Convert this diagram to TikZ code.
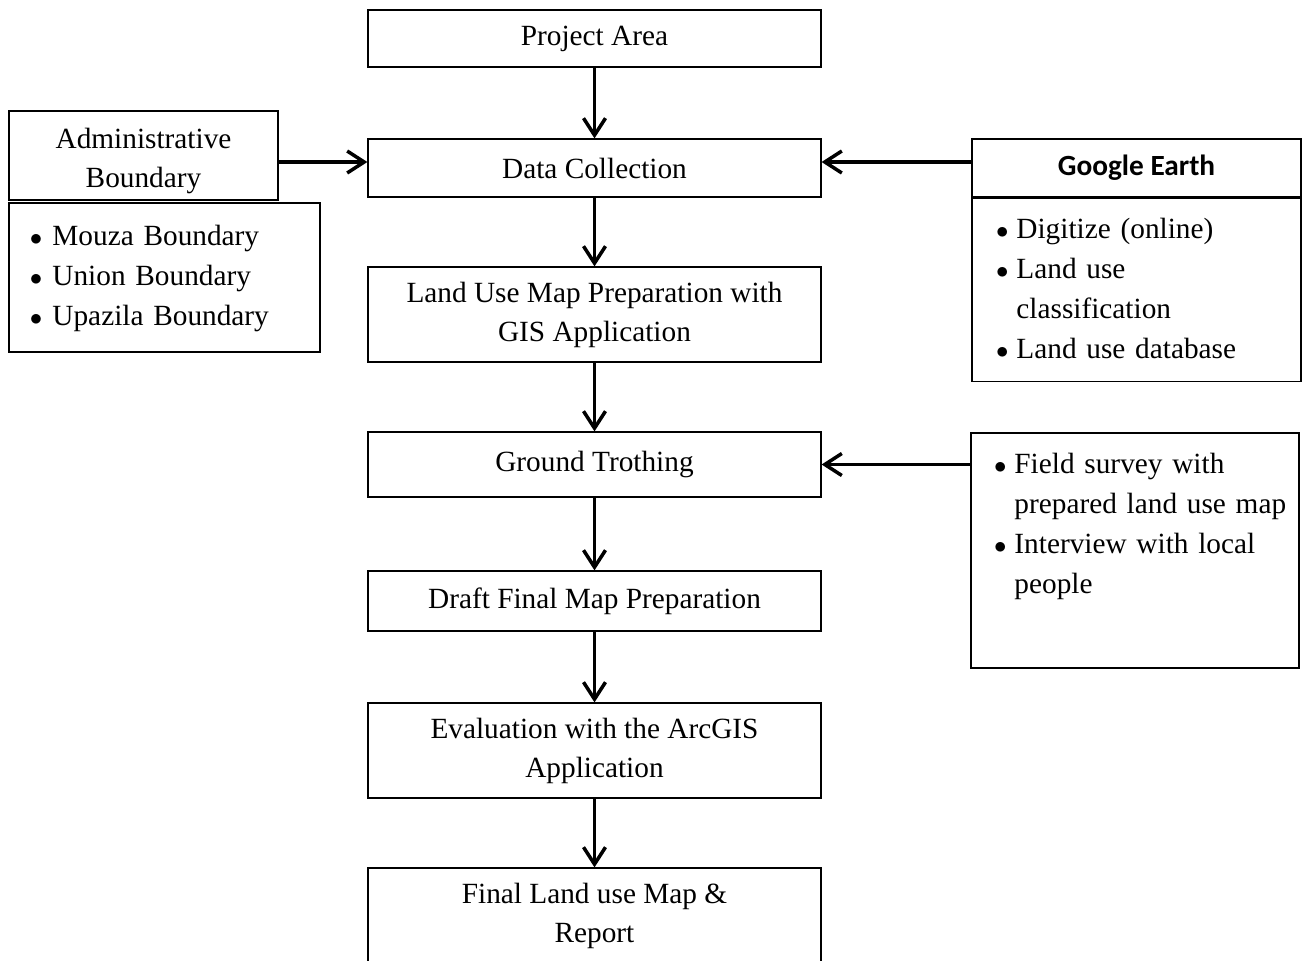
\documentclass[tikz,border=0pt]{standalone}
\usepackage{fontspec}
\setmainfont{Liberation Serif}
\newfontfamily\headfont{Carlito}
\usetikzlibrary{arrows.meta}
\tikzset{
  box/.style={draw, line width=1.2pt, minimum width=453pt, inner sep=0pt,
    align=center, font=\fontsize{29.3}{39}\selectfont},
  listbox/.style={draw, line width=1.2pt, inner ysep=0pt, align=left,
    font=\fontsize{29.3}{40}\selectfont},
  flow/.style={line width=3.5pt, -{Straight Barb[length=17pt,width=22pt]}}
}
\newcommand{\bulletrow}[1]{$\bullet$ & #1\\}
\begin{document}
\begin{tikzpicture}[x=1pt,y=-1pt]
  \useasboundingbox (0,0) rectangle (1302,961);
  % main column
  \node (proj) at (594.5,38.5) [box, minimum height=57pt] {Project Area};
  \node (data) at (594.5,168) [box, minimum height=58pt] {Data Collection};
  \node (lumap) at (594.5,314.5) [box, minimum height=95pt]
    {Land Use Map Preparation with\\GIS Application};
  \node (ground) at (594.5,464.5) [box, minimum height=65pt] {Ground Trothing};
  \node (draft) at (594.5,601) [box, minimum height=60pt]
    {Draft Final Map Preparation};
  \node (eval) at (594.5,750.5) [box, minimum height=95pt]
    {Evaluation with the ArcGIS\\Application};
  \node (final) at (594.5,916) [box, minimum height=96pt]
    {Final Land use Map \&\\Report};
  % left side
  \node (admin) at (143.5,155.5) [box, minimum width=269pt, minimum height=89pt]
    {\raisebox{-5pt}[\height][\depth]{\begin{tabular}{@{}c@{}}Administrative\\Boundary\end{tabular}}};
  \node (adminlist) at (164.5,277.5) [listbox, inner xsep=21pt, text width=269pt,
    minimum height=149pt]
    {\begin{tabular}{@{}l@{\hspace{10pt}}l@{}}
      \bulletrow{Mouza Boundary}
      \bulletrow{Union Boundary}
      \bulletrow{Upazila Boundary}
    \end{tabular}};
  % right side
  \node (gearth) at (1136.5,168) [box, minimum width=329pt, minimum height=58pt,
    font=\headfont\bfseries\fontsize{29.3}{39}\selectfont] {Google Earth};
  \node (gelist) at (1136.5,290) [listbox, inner xsep=24pt, text width=281pt,
    minimum height=183pt]
    {\begin{tabular}{@{}l@{\hspace{8pt}}l@{}}
      \bulletrow{Digitize (online)}
      \bulletrow{Land use}
      & classification\\
      \bulletrow{Land use database}
    \end{tabular}};
  \node (field) at (1135,550.5) [listbox, inner xsep=23pt, text width=282pt,
    minimum height=235pt]
    {\begin{tabular}{@{}l@{\hspace{8pt}}l@{}}
      \bulletrow{Field survey with}
      & prepared land use map\\
      \bulletrow{Interview with local}
      & people\\
      & \\[10pt]
    \end{tabular}};
  % connectors
  \draw[flow] (proj) -- (data);
  \draw[flow] (data) -- (lumap);
  \draw[flow] (lumap) -- (ground);
  \draw[flow] (ground) -- (draft);
  \draw[flow] (draft) -- (eval);
  \draw[flow] (eval) -- (final);
  \draw[flow] ([yshift=-6.5pt]admin.east) -- ([yshift=-6.5pt]admin.east -| data.west);
  \draw[flow] ([yshift=6pt]gearth.west) -- ([yshift=6pt]data.east);
  \draw[flow] (ground.east -| field.west) -- (ground.east);
\end{tikzpicture}
\end{document}
